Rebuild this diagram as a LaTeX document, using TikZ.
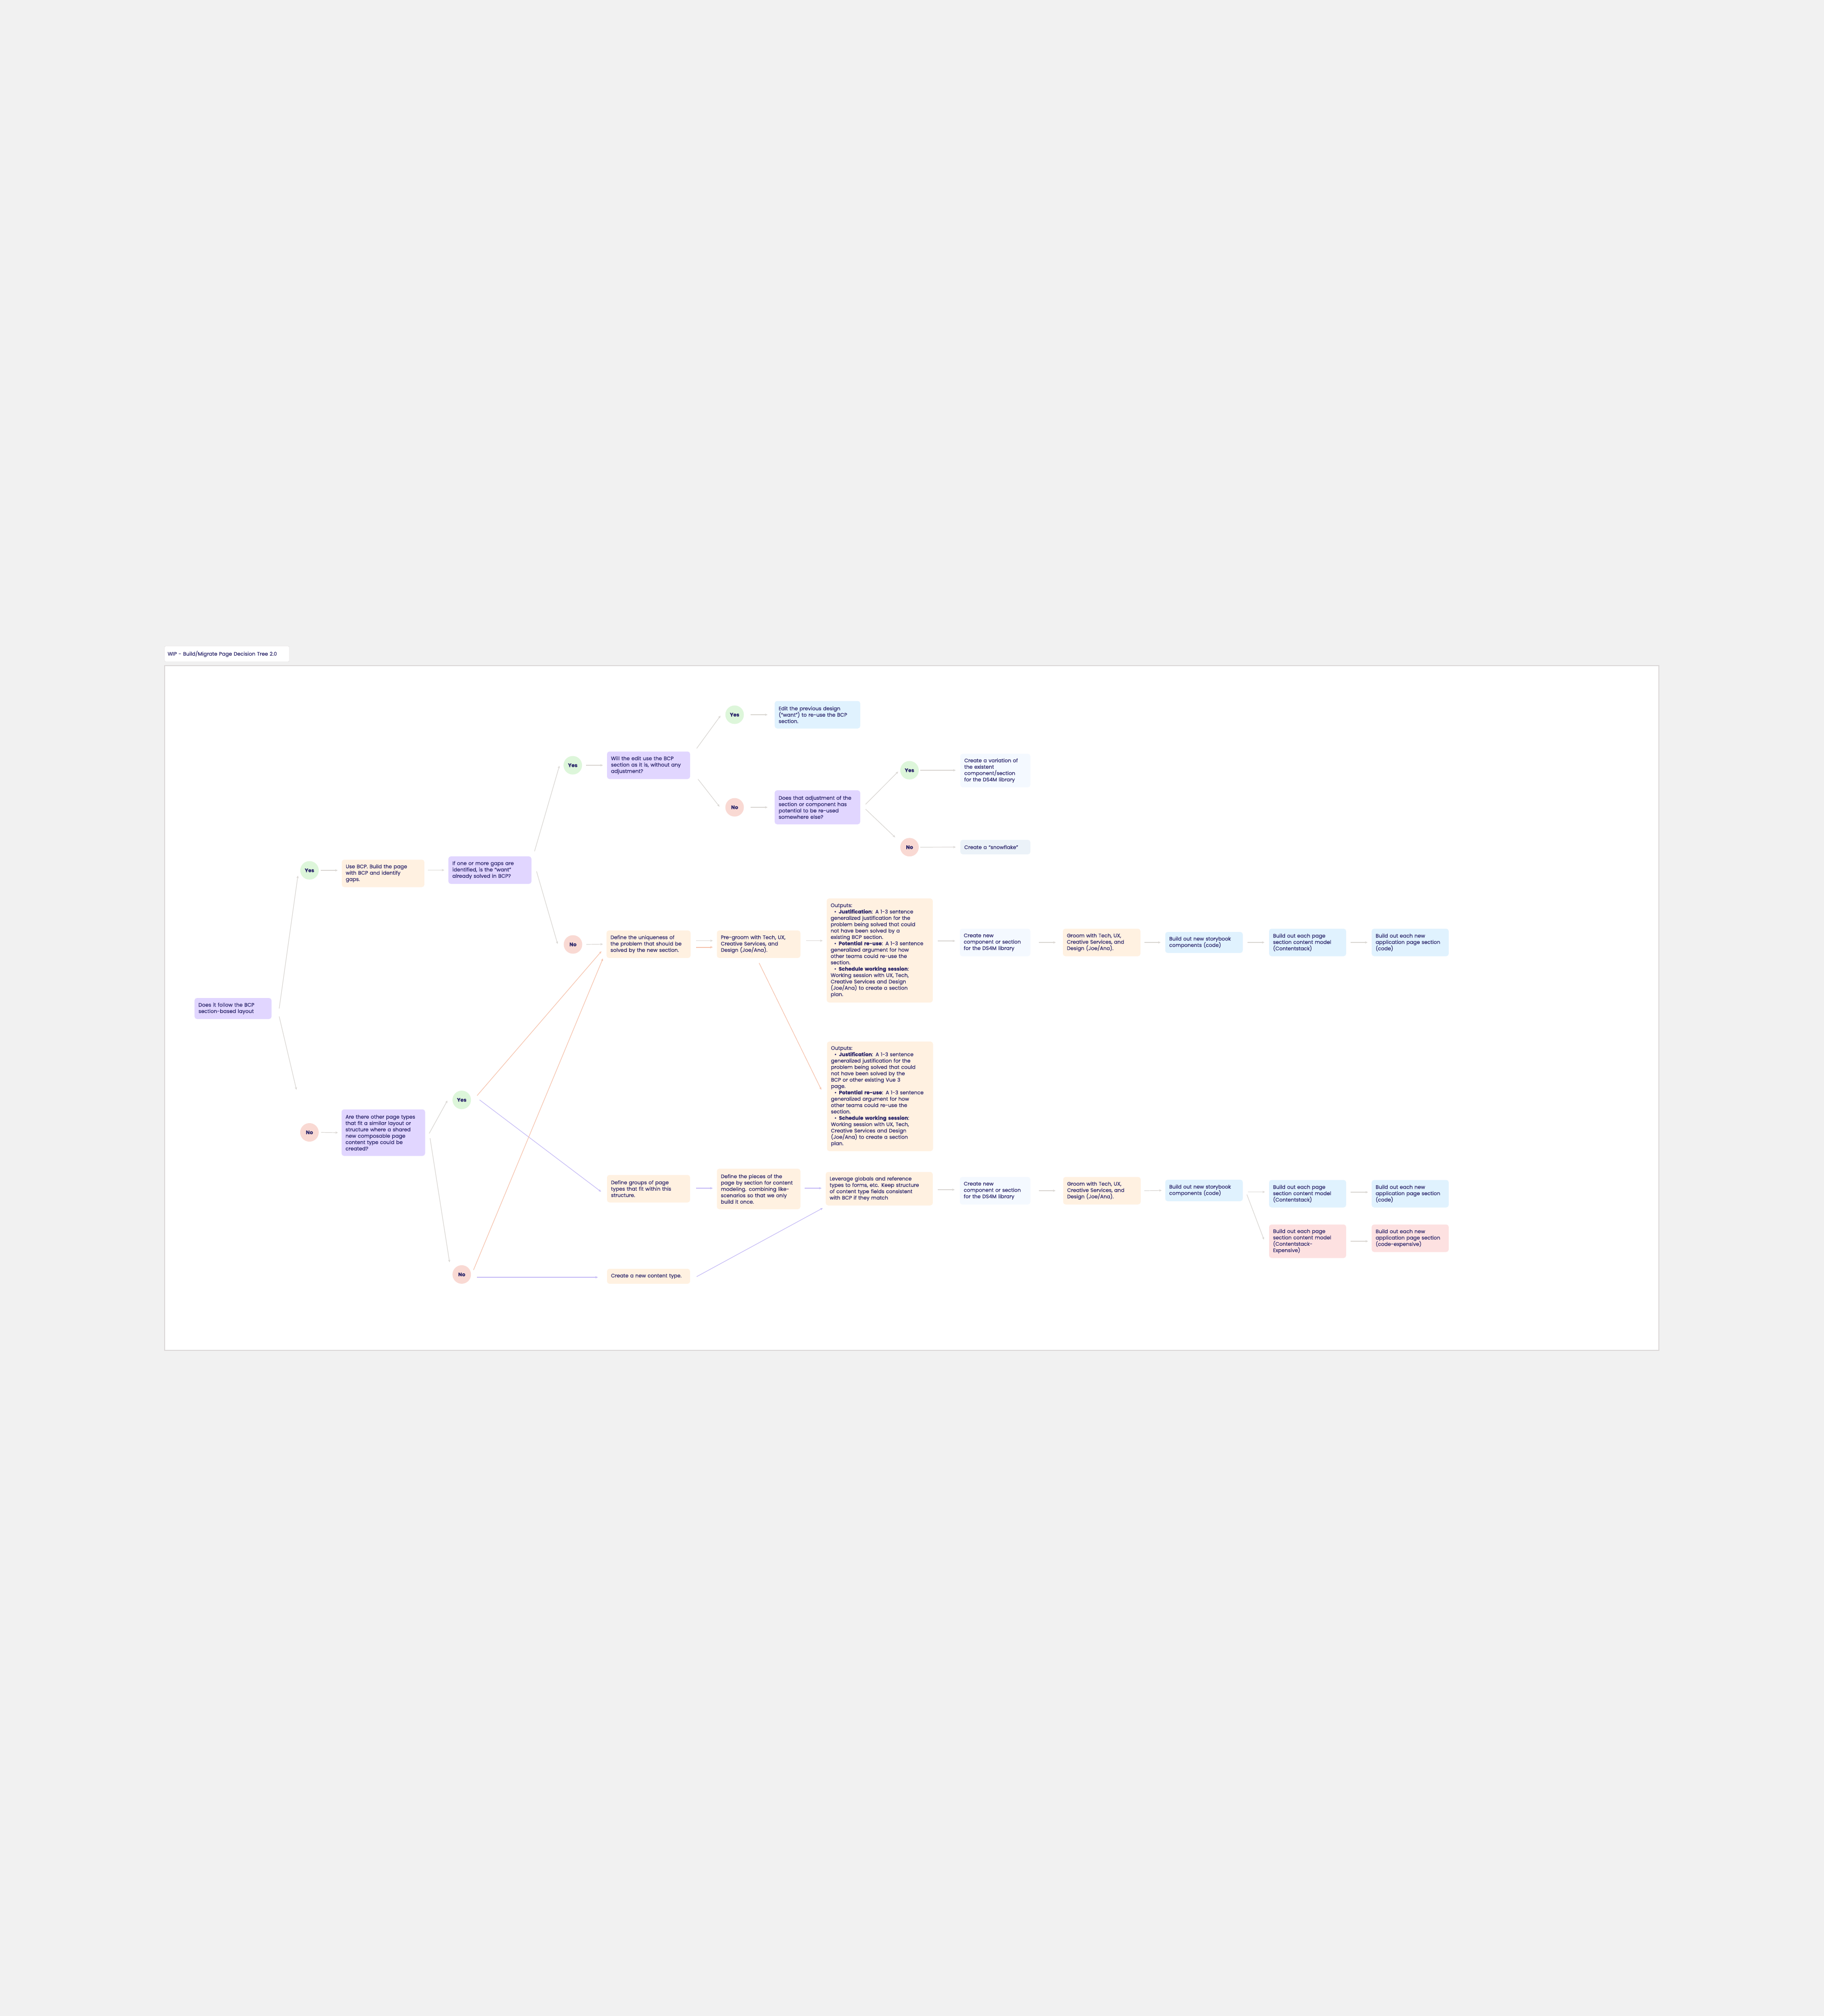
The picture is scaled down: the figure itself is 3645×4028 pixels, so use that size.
\documentclass[tikz,border=0pt]{standalone}
\usepackage{fontspec}
\setmainfont{Poppins}[FakeBold=0.35]
\usetikzlibrary{arrows.meta,calc}

\definecolor{pagebg}{HTML}{F1F1F1}
\definecolor{framebd}{HTML}{DCD8D8}
\definecolor{ink}{HTML}{2C276B}
\definecolor{lilac}{HTML}{E1D6FF}
\definecolor{peach}{HTML}{FFF1E1}
\definecolor{sky}{HTML}{E0F2FE}
\definecolor{mist}{HTML}{F4F9FF}
\definecolor{frost}{HTML}{EBF2F8}
\definecolor{rose}{HTML}{FDE1E1}
\definecolor{mint}{HTML}{DDF6DA}
\definecolor{blush}{HTML}{F9D9D3}
\definecolor{greyline}{HTML}{DAD7D3}
\definecolor{peachline}{HTML}{F6C3AD}
\definecolor{lilacline}{HTML}{C6BCF6}

\newcommand{\outitem}[2]{\par\hangindent=16pt\hangafter=1\noindent\hspace*{7pt}\makebox[9pt][l]{\textbullet}\textbf{#1}: #2}

\tikzset{
  card/.style={rounded corners=5pt, inner xsep=8pt, inner ysep=2pt, align=left, text=ink,
    font=\fontsize{10.2}{12.7}\selectfont},
  sz/.code 2 args={\pgfmathsetmacro\boxtw{#1-16}\tikzset{minimum width=#1pt, minimum height=#2pt, text width=\boxtw pt}},
  lilacbox/.style={card, fill=lilac},
  peachbox/.style={card, fill=peach},
  skybox/.style={card, fill=sky},
  mistbox/.style={card, fill=mist},
  frostbox/.style={card, fill=frost},
  rosebox/.style={card, fill=rose},
  answer/.style={circle, minimum size=37pt, inner sep=0pt, text=ink, font=\fontsize{10.2}{11}\selectfont\bfseries},
  yescirc/.style={answer, fill=mint},
  nocirc/.style={answer, fill=blush},
  link/.style={draw=greyline, line width=1.2pt, -{Stealth[length=5pt, width=4.5pt]}},
  peachlink/.style={link, draw=peachline},
  lilaclink/.style={link, draw=lilacline},
}

\begin{document}
\begin{tikzpicture}[x=1pt, y=1pt, yscale=-1]
\fill[pagebg] (0,0) rectangle (3645,4028);
\useasboundingbox (0,0) rectangle (3645,4028);
\draw[framebd, fill=white, line width=2pt] (329,1330) rectangle (3315,2698);
\node[card, draw=framebd, fill=white, rounded corners=2pt, inner xsep=6pt, sz={249}{31}, text width=237pt] (title) at (453.5,1306.5) {WIP - Build/Migrate Page Decision Tree 2.0};

% upper branch
\node[lilacbox, sz={154}{42}] (follow) at (465.7,2015) {Does it follow the BCP\\section-based layout};
\node[peachbox, sz={165}{55}] (usebcp) at (765.5,1745) {Use BCP. Build the page\\with BCP and identify\\gaps.};
\node[lilacbox, sz={166}{55}] (gaps) at (979,1738.5) {If one or more gaps are\\identified, is the “want”\\already solved in BCP?};
\node[lilacbox, sz={166}{55}] (asis) at (1296,1529) {Will the edit use the BCP\\section as it is, without any\\adjustment?};
\node[skybox, sz={171}{55}] (editprev) at (1633.5,1428) {Edit the previous design\\(“want”) to re-use the BCP\\section.};
\node[lilacbox, sz={171}{68}] (reuse) at (1633.5,1613) {Does that adjustment of the\\section or component has\\potential to be re-used\\somewhere else?};
\node[mistbox, sz={140}{67}] (variation) at (1989,1539.5) {Create a variation of\\the existent\\component/section\\for the DS4M library};
\node[frostbox, sz={140}{29}] (snowflake) at (1989,1692.5) {Create a “snowflake”};

% new section row
\node[peachbox, sz={168}{55}] (unique) at (1296,1886.5) {Define the uniqueness of\\the problem that should be\\solved by the new section.};
\node[peachbox, sz={167}{55}] (pregroom) at (1516,1886.5) {Pre-groom with Tech, UX,\\Creative Services, and\\Design (Joe/Ana).};
\node[peachbox, sz={212}{208}] (outA) at (1758,1899) {Outputs:%
  \outitem{Justification}{A 1-3 sentence\\generalized justification for the\\problem being solved that could\\not have been solved by a\\existing BCP section.}%
  \outitem{Potential re-use}{A 1-3 sentence\\generalized argument for how\\other teams could re-use the\\section.}%
  \outitem{Schedule working session}{\\Working session with UX, Tech,\\Creative Services and Design\\(Joe/Ana) to create a section\\plan.}\par};
\node[mistbox, sz={141}{55}] (newA) at (1988.5,1883) {Create new\\component or section\\for the DS4M library};
\node[peachbox, sz={155}{55}] (groomA) at (2201.5,1883) {Groom with Tech, UX,\\Creative Services, and\\Design (Joe/Ana).};
\node[skybox, sz={155}{42}] (storyA) at (2406,1883) {Build out new storybook\\components (code)};
\node[skybox, sz={154}{55}] (modelA) at (2613,1883) {Build out each page\\section content model\\(Contentstack)};
\node[skybox, sz={154}{55}] (appA) at (2818,1883) {Build out each new\\application page section\\(code)};
\node[peachbox, sz={212}{219}] (outB) at (1758.5,2190.5) {Outputs:%
  \outitem{Justification}{A 1-3 sentence\\generalized justification for the\\problem being solved that could\\not have been solved by the\\BCP or other existing Vue 3\\page.}%
  \outitem{Potential re-use}{A 1-3 sentence\\generalized argument for how\\other teams could re-use the\\section.}%
  \outitem{Schedule working session}{\\Working session with UX, Tech,\\Creative Services and Design\\(Joe/Ana) to create a section\\plan.}\par};

% lower branch
\node[lilacbox, sz={167}{93}] (other) at (766,2263) {Are there other page types\\that fit a similar layout or\\structure where a shared\\new composable page\\content type could be\\created?};
\node[peachbox, sz={166}{55}] (groups) at (1296,2375) {Define groups of page\\types that fit within this\\structure.};
\node[peachbox, sz={167}{81}] (pieces) at (1516,2375.5) {Define the pieces of the\\page by section for content\\modeling. combining like-\\scenarios so that we only\\build it once.};
\node[peachbox, sz={214}{67}] (leverage) at (1757,2375) {Leverage globals and reference\\types to forms, etc. Keep structure\\of content type fields consistent\\with BCP if they match};
\node[mistbox, sz={141}{55}] (newB) at (1988.5,2379) {Create new\\component or section\\for the DS4M library};
\node[peachbox, sz={155}{55}] (groomB) at (2202,2379) {Groom with Tech, UX,\\Creative Services, and\\Design (Joe/Ana).};
\node[skybox, sz={155}{43}] (storyB) at (2406,2378.5) {Build out new storybook\\components (code)};
\node[skybox, sz={154}{55}] (modelB) at (2613,2385) {Build out each page\\section content model\\(Contentstack)};
\node[skybox, sz={154}{55}] (appB) at (2818,2385) {Build out each new\\application page section\\(code)};
\node[rosebox, sz={154}{67}] (modelC) at (2613,2480) {Build out each page\\section content model\\(Contentstack-\\Expensive)};
\node[rosebox, sz={154}{55}] (appC) at (2818,2474) {Build out each new\\application page section\\(code-expensive)};
\node[peachbox, sz={166}{30}] (newtype) at (1296,2550) {Create a new content type.};

\foreach \nm/\px/\py in {yesA/618.5/1739, yesB/1144.6/1529, yesC/1468/1428, yesD/1817.5/1539, yesE/922.7/2197.6}
  \node[yescirc] (\nm) at (\px,\py) {Yes};
\foreach \nm/\px/\py in {noA/618.4/2262.5, noB/1145/1887, noC/1468/1613, noD/1817.5/1692.7, noE/922.7/2546.4}
  \node[nocirc] (\nm) at (\px,\py) {No};

% connectors
\draw[link] ($(follow.east)+(15,0)$) -- ($(yesA.west)+(-4.5,10.6)$);
\draw[link] ($(follow.east)+(15,16)$) -- ($(noA.north)+(-26,-66.5)$);
\draw[link] ($(yesA.east)+(4,0)$) -- ($(usebcp.west |- yesA.east)+(-8,0)$);
\draw[link] ($(usebcp.east |- gaps.east)+(7,0)$) -- ($(gaps.west)+(-8,0)$);
\draw[link] ($(gaps.north east)+(6,-10)$) -- ($(yesB.west)+(-8,1)$);
\draw[link] ($(gaps.east)+(10,2.5)$) -- ($(noB.west)+(-12,-1)$);
\draw[link] ($(yesB.east)+(8,0)$) -- ($(asis.west)+(-8,0)$);
\draw[link] ($(asis.north east)+(13,-6)$) -- ($(yesC.west)+(-9.5,2)$);
\draw[link] ($(asis.south east)+(15.6,0)$) -- ($(noC.west)+(-11.5,-1.3)$);
\draw[link] ($(yesC.east)+(13,0)$) -- ($(editprev.west)+(-14,0)$);
\draw[link] ($(noC.east)+(13,0)$) -- ($(reuse.west)+(-14,0)$);
\draw[link] ($(reuse.east)+(10.5,-6)$) -- ($(yesD.west)+(-4,2.7)$);
\draw[link] ($(reuse.east)+(10.5,3.7)$) -- ($(noD.west)+(-10,-19.7)$);
\draw[link] ($(yesD.east)+(3,0)$) -- ($(variation.west |- yesD.east)+(-9,0)$);
\draw[link] ($(noD.east)+(3,0)$) -- ($(snowflake.west)+(-9,0)$);
\draw[link] ($(noB.east)+(8,0)$) -- ($(unique.west)+(-7,0)$);
\draw[link] ($(unique.east)+(11,-7)$) -- ($(pregroom.west)+(-8,-7)$);
\draw[peachlink, line width=2pt] ($(unique.east)+(11,6)$) -- ($(pregroom.west)+(-8,6)$);
\draw[link] ($(pregroom.east)+(11,-7)$) -- ($(outA.west |- pregroom.east)+(-8,-7)$);
\draw[peachlink] ($(pregroom.south)+(1,10)$) -- ($(outB.west)+(-11,-13.3)$);
\draw[link] ($(outA.east |- newA.east)+(10,-3)$) -- ($(newA.west)+(-9,-3)$);
\draw[link] ($(newA.east)+(17,0)$) -- ($(groomA.west)+(-14,0)$);
\draw[link] ($(groomA.east)+(8,0)$) -- ($(storyA.west)+(-9,0)$);
\draw[link] ($(storyA.east)+(9,0)$) -- ($(modelA.west)+(-9,0)$);
\draw[link] ($(modelA.east)+(9,0)$) -- ($(appA.west)+(-8,0)$);
\draw[link] ($(noA.east)+(4.5,0)$) -- ($(other.west)+(-7,0)$);
\draw[link] ($(other.east)+(8,1.5)$) -- ($(yesE.west)+(-10,1.4)$);
\draw[link] ($(other.east)+(9.7,11)$) -- ($(noE.west)+(-5.6,-24.4)$);
\draw[lilaclink] ($(yesE.east)+(17,0)$) -- ($(groups.west)+(-11.7,6)$);
\draw[peachlink] ($(yesE.east)+(12,-8.6)$) -- ($(unique.west)+(-10,14.2)$);
\draw[peachlink] ($(noE.east)+(4.8,-9)$) -- ($(unique.south west)+(-7,1)$);
\draw[lilaclink] ($(noE.east)+(12,5.6)$) -- ($(newtype.west)+(-18,2)$);
\draw[lilaclink] ($(groups.east)+(12,-1)$) -- ($(pieces.west)+(-8,-1.5)$);
\draw[lilaclink] ($(pieces.east)+(8,-1.5)$) -- ($(leverage.west)+(-8,-1)$);
\draw[lilaclink] ($(newtype.east)+(13,0.7)$) -- ($(leverage.south west)+(-5.6,5)$);
\draw[link] ($(leverage.east |- newB.east)+(10,-2)$) -- ($(newB.west)+(-10,-2)$);
\draw[link] ($(newB.east)+(17,0)$) -- ($(groomB.west)+(-15,0)$);
\draw[link] ($(groomB.east)+(7,0)$) -- ($(storyB.west)+(-7,0)$);
\draw[link] ($(storyB.east)+(10,3)$) -- ($(modelB.west |- storyB.east)+(-8,3)$);
\draw[link] ($(modelB.east)+(8.5,-3)$) -- ($(appB.west)+(-7,-3)$);
\draw[link] ($(storyB.east)+(8,8.2)$) -- ($(modelC.west)+(-10,-3.3)$);
\draw[link] ($(modelC.east)+(8.5,0)$) -- ($(appC.west |- modelC.east)+(-7,0)$);
\end{tikzpicture}
\end{document}
